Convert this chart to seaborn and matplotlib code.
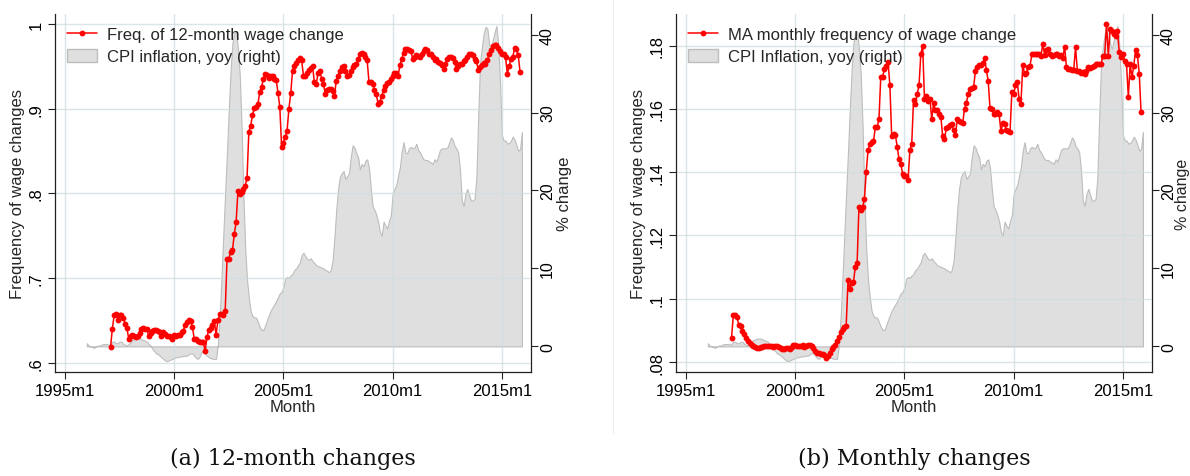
import numpy as np
import pandas as pd
import seaborn as sns
import matplotlib.pyplot as plt
from matplotlib.lines import Line2D
from matplotlib.patches import Patch

# ---------- data (monthly) ----------
def month_index(year, month):
    # months since 1995m1
    return (year - 1995) * 12 + (month - 1)

FREQ_START = month_index(1997, 2)
CPI_START = month_index(1996, 1)

freq_12m = [
    .618, .640, .656, .658, .651, .656, .656, .653, .646, .641,
    .628, .632, .633, .631, .630, .631, .635, .640, .641, .640,
    .640, .631, .635, .637, .639, .639, .638, .636, .631, .636,
    .634, .632, .631, .630, .628, .633, .631, .633, .633, .636,
    .638, .644, .648, .650, .649, .642, .628, .628, .626, .624,
    .624, .624, .614, .630, .639, .641, .645, .649, .633, .650,
    .657, .657, .656, .661, .722, .723, .731, .733, .752, .766,
    .803, .799, .801, .805, .809, .818, .873, .880, .892, .901,
    .902, .906, .920, .926, .935, .941, .940, .936, .938, .939,
    .935, .934, .919, .902, .855, .860, .867, .874, .900, .918,
    .945, .950, .954, .958,
    .960, .957, .939, .939, .942, .946, .948, .950, .931, .929,
    .942, .945, .935, .929, .917, .922, .923, .923, .921, .915,
    .933, .939, .945, .949, .950, .945, .938, .940, .944, .949,
    .951, .953, .959, .965, .966, .964, .961, .957, .931, .931,
    .929, .922, .917, .906, .908, .915, .922, .927, .930, .932,
    .935, .939, .942, .942, .939, .951, .959, .966, .970, .970,
    .969, .968, .959, .961, .963, .962, .961, .964, .968, .970,
    .969, .965, .965, .961, .957, .959, .955, .954, .951, .947,
    .953, .959, .961, .961, .960, .955, .947, .950, .953, .953,
    .956, .958, .961, .965, .965, .963, .959, .956, .946, .949,
    .952, .954, .953, .957, .965, .969, .974, .975, .975, .972,
    .968, .965, .965, .961, .941, .950, .959, .961, .972, .970,
    .963, .943,
]

freq_monthly = [
    .0877, .0947, .0947, .0942, .0917, .0913, .0898, .0887, .0876, .0866,
    .0859, .0854, .0850, .0846, .0844, .0843, .0847, .0849, .0851, .0851,
    .0852, .0852, .0850, .0849, .0852, .0851, .0849, .0845, .0842, .0842,
    .0844, .0843, .0842, .0848, .0855, .0854, .0852, .0851, .0851, .0853,
    .0849, .0851, .0853, .0854, .0851, .0843, .0835, .0830, .0828, .0826,
    .0824, .0821, .0813, .0818, .0830, .0840, .0847, .0855, .0866, .0878,
    .0895, .0904, .0910, .0915, .1058, .1032, .1049, .1053, .1100, .1112,
    .1290, .1280, .1290, .1315, .1400, .1470, .1488, .1496, .1498, .1542,
    .1542, .1568, .1702, .1702, .1726, .1737, .1747, .1674, .1513, .1521,
    .1519, .1481, .1442, .1426, .1395, .1389, .1389, .1376, .1471, .1489,
    .1628, .1614, .1647, .1674,
    .1774, .1800, .1632, .1642, .1626, .1632, .1568, .1618, .1595, .1595,
    .1584, .1576, .1513, .1505, .1540, .1542, .1550, .1552, .1534, .1516,
    .1568, .1562, .1560, .1555, .1600, .1618, .1647, .1663, .1666, .1668,
    .1721, .1734, .1740, .1740, .1744, .1761, .1723, .1689, .1603, .1600,
    .1584, .1584, .1589, .1584, .1529, .1554, .1552, .1533, .1529, .1526,
    .1653, .1647, .1674, .1684, .1632, .1616, .1740, .1711, .1713, .1732,
    .1737, .1772, .1775, .1774, .1775, .1774, .1767, .1806, .1771, .1786,
    .1789, .1775, .1767, .1770, .1772, .1774, .1766, .1770, .1760, .1797,
    .1732, .1726, .1726, .1723, .1723, .1795, .1721, .1719, .1713, .1716,
    .1710, .1721, .1731, .1730, .1734, .1737, .1742, .1742, .1742, .1742,
    .1768, .1768, .1868, .1768, .1853, .1847, .1837, .1832, .1846, .1779,
    .1763, .1774, .1753, .1742, .1637, .1742, .1700, .1737, .1787, .1770,
    .1711, .1589,
]

cpi_yoy = [
    0.4, 0.1, 0.0, -0.1, -0.2, 0.0, 0.1, 0.1, 0.2, 0.3,
    0.3, 0.3, 0.2, 0.3, 0.6, 0.6, 0.4, 0.4, 0.6, 0.6,
    0.3, 0.2, 0.1, 0.3, 0.5, 0.8, 0.9, 1.0, 1.0, 1.0,
    0.9, 0.8, 0.7, 0.6, 0.3, 0.1, -0.3, -0.6, -0.9, -1.0,
    -1.2, -1.4, -1.6, -1.8, -1.9, -1.8, -1.7, -1.6, -1.5, -1.4,
    -1.4, -1.3, -1.3, -1.2, -1.2, -1.2, -1.0, -0.9, -0.9, -1.2,
    -1.5, -1.6, -1.3, -0.7, -0.8, -1.0, -1.2, -1.4, -1.5, -1.6,
    -1.6, -1.6, 0.3, 4.0, 9.0, 14.5, 19.8, 25.0, 30.5, 35.5,
    39.0, 40.2, 40.4, 38.2, 34.8, 28.2, 19.2, 12.5, 8.5, 6.2,
    4.5, 3.9, 3.7, 3.7, 3.1, 2.5, 2.1, 2.1, 2.7, 3.4,
    4.0, 4.6, 5.0, 5.4, 5.8, 6.3, 6.8, 7.0, 7.6, 8.7,
    8.9, 8.8, 9.1, 9.3, 9.8, 10.0,
    10.4, 10.8, 11.7, 12.0, 11.6, 11.2, 11.1, 11.3, 10.9, 10.7,
    10.4, 10.3, 10.2, 10.1, 10.0, 9.8, 9.7, 9.5, 9.8, 11.0,
    14.0, 17.5, 20.2, 21.7, 22.2, 22.5, 21.5, 21.8, 22.2, 24.3,
    25.8, 25.5, 24.8, 24.3, 22.7, 23.4, 23.1, 23.8, 24.0, 22.9,
    20.2, 18.0, 17.5, 16.9, 16.0, 14.7, 14.2, 16.0, 15.5, 15.1,
    16.1, 16.8, 19.6, 20.2, 20.7, 21.9, 23.0, 25.1, 26.2, 24.8,
    24.8, 25.4, 25.6, 25.4, 25.5, 26.0, 25.2, 24.9, 24.4, 24.0,
    23.9, 23.9, 23.7, 23.6, 23.4, 24.0, 23.7, 24.4, 25.2, 25.4,
    25.4, 25.4, 25.5, 26.1, 26.8, 26.5, 25.7, 25.4, 24.9, 22.6,
    18.7, 18.0, 19.6, 20.2, 19.4, 18.7, 18.7, 18.9, 21.7, 29.4,
    36.3, 38.4, 40.1, 41.0, 40.8, 38.8, 38.2, 39.3, 40.3, 41.1,
    38.8, 33.9, 27.1, 26.4, 26.4, 26.0, 26.1, 26.4, 26.9, 26.5,
    25.8, 25.1, 25.3, 27.5,
]

x_ticks = [0, 60, 120, 180, 240]
x_ticklabels = ["1995m1", "2000m1", "2005m1", "2010m1", "2015m1"]

panels = [
    dict(freq=freq_12m, label="Freq. of 12-month wage change",
         cpi_label="CPI inflation, yoy (right)",
         yticks=[.6, .7, .8, .9, 1.0], yticklabels=[".6", ".7", ".8", ".9", "1"],
         ylim=(.589, 1.0118), caption="(a) 12-month changes"),
    dict(freq=freq_monthly, label="MA monthly frequency of wage change",
         cpi_label="CPI Inflation, yoy (right)",
         yticks=[.08, .10, .12, .14, .16, .18],
         yticklabels=[".08", ".1", ".12", ".14", ".16", ".18"],
         ylim=(.07684, .19), caption="(b) Monthly changes"),
]
cpi_ticks = [0, 10, 20, 30, 40]

# ---------- style ----------
sns.set_theme(style="white")
plt.rcParams["font.family"] = ["Liberation Sans", "DejaVu Sans"]

RED = "#ff0000"
FILL = "#dfdfdf"
EDGE = "#bdbdbd"
GRID = "#cfdcdf"
INK = "#222222"

fig = plt.figure(figsize=(11.9, 4.77), dpi=100)
W, H = 1190, 477

cpi_df = pd.DataFrame({"month": np.arange(CPI_START, CPI_START + len(cpi_yoy)),
                       "cpi": cpi_yoy})

for k, p in enumerate(panels):
    left_px = 55 + 621 * k
    ax = fig.add_axes([left_px / W, (H - 373) / H, 476 / W, 358 / H])
    ax2 = ax.twinx()
    ax.set_zorder(ax2.get_zorder() + 1)
    ax.patch.set_visible(False)

    # CPI area on the right axis
    ax2.fill_between(cpi_df["month"], 0, cpi_df["cpi"], facecolor=FILL,
                     edgecolor=EDGE, linewidth=0.8)
    ax2.set_ylim(-3.29, 42.64)
    ax2.set_yticks(cpi_ticks, labels=[str(t) for t in cpi_ticks])

    # frequency line on the left axis
    fdf = pd.DataFrame({"month": np.arange(FREQ_START, FREQ_START + len(p["freq"])),
                        "freq": p["freq"]})
    sns.lineplot(data=fdf, x="month", y="freq", ax=ax, color=RED, linewidth=1.1,
                 marker="o", markersize=4.2, markeredgewidth=0, legend=False)

    ax.set_xlim(-5.5, 256)
    ax.set_ylim(*p["ylim"])
    ax.set_xticks(x_ticks, labels=x_ticklabels)
    ax.set_yticks(p["yticks"], labels=p["yticklabels"])
    ax.grid(True, color=GRID, linewidth=1.0, alpha=0.75)
    ax.set_axisbelow(True)

    for a in (ax, ax2):
        a.tick_params(direction="out", length=5, width=0.8, color=INK,
                      labelsize=12, labelcolor="black", pad=3)
        a.spines["top"].set_visible(False)
    ax2.tick_params(axis="y", pad=1.5, labelsize=11.5)
    for side in ("left", "bottom"):
        ax.spines[side].set_color(INK)
        ax.spines[side].set_linewidth(0.9)
        ax2.spines[side].set_visible(False)
    ax.spines["right"].set_visible(False)
    ax2.spines["right"].set_color(INK)
    ax2.spines["right"].set_linewidth(0.9)
    ax.tick_params(axis="x", bottom=True)
    ax.tick_params(axis="y", left=True)
    ax2.tick_params(axis="y", right=True)

    for lab in ax.get_yticklabels() + ax2.get_yticklabels():
        lab.set_rotation(90)
        lab.set_va("center")

    ax.set_xlabel("Month", fontsize=12, labelpad=1)
    ax.set_ylabel("Frequency of wage changes", fontsize=12, labelpad=3)
    ax2.set_ylabel("% change", fontsize=11.5 if k else 12, va="center")
    # put the right-hand label just inside the figure edge
    ax2.yaxis.set_label_coords(1.071 if k == 0 else 1.064, 0.5)

    handles = [Line2D([], [], color=RED, linewidth=1.1, marker="o",
                      markersize=4.2, markeredgewidth=0),
               Patch(facecolor=FILL, edgecolor=EDGE, linewidth=1.0)]
    ax.legend(handles, [p["label"], p["cpi_label"]], loc="upper left",
              bbox_to_anchor=(0.025, 0.966), frameon=False, fontsize=12,
              handlelength=1.8, handleheight=0.9, handletextpad=0.6,
              labelspacing=0.4, borderaxespad=0, borderpad=0)

    fig.text((left_px + 238) / W, 1 - 459 / H, p["caption"], ha="center",
             va="center", fontsize=16, family="DejaVu Serif", color="#111111")

# faint separator between the two panels
fig.add_artist(Line2D([613 / W, 613 / W], [0.09, 1.0], color="#eeeeee",
                      linewidth=0.8, transform=fig.transFigure))

fig.savefig("out.png", dpi=100)
